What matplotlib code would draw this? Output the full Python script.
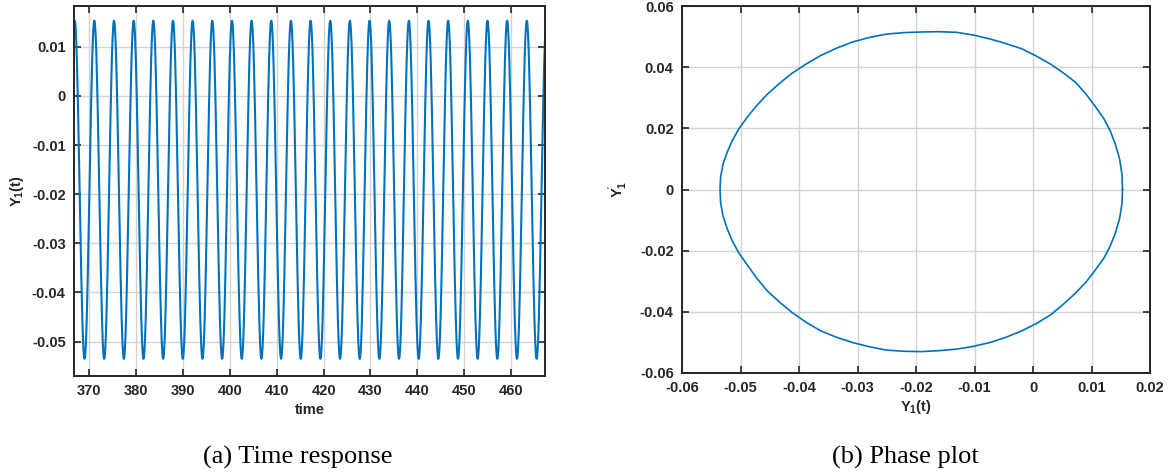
import numpy as np
import matplotlib
matplotlib.use("Agg")
import matplotlib.pyplot as plt

# one oscillation cycle (5 degree steps, clockwise from the right end)
y1_cycle = [0.0153, 0.0152, 0.0148, 0.0141, 0.0132, 0.0121, 0.0107, 0.0091, 0.0073, 0.0052,
            0.0030, 0.0006, -0.0019, -0.0046, -0.0073, -0.0102, -0.0131, -0.0161,
            -0.0191, -0.0221, -0.0251, -0.0280, -0.0309, -0.0336, -0.0363, -0.0388,
            -0.0412, -0.0434, -0.0455, -0.0473, -0.0489, -0.0503, -0.0514, -0.0523,
            -0.0530, -0.0534, -0.0535, -0.0534, -0.0530, -0.0523, -0.0514, -0.0503,
            -0.0489, -0.0473, -0.0455, -0.0434, -0.0412, -0.0388, -0.0363, -0.0336,
            -0.0309, -0.0280, -0.0251, -0.0221, -0.0191, -0.0161, -0.0131, -0.0102,
            -0.0073, -0.0046, -0.0019, 0.0006, 0.0030, 0.0052, 0.0073, 0.0091,
            0.0107, 0.0121, 0.0132, 0.0141, 0.0148, 0.0152]
dy1_cycle = [0.0, -0.0048, -0.0095, -0.0141, -0.0185, -0.0225, -0.0262, -0.0302, -0.0338,
             -0.0375, -0.0410, -0.0438, -0.0462, -0.0483, -0.0500, -0.0513, -0.0522, -0.0527,
             -0.0530, -0.0529, -0.0525, -0.0514, -0.0500, -0.0483, -0.0462, -0.0434,
             -0.0402, -0.0367, -0.0330, -0.0288, -0.0245, -0.0207, -0.0168, -0.0127,
             -0.0085, -0.0043, 0.0, 0.0041, 0.0082, 0.0121, 0.0160, 0.0198,
             0.0235, 0.0273, 0.0310, 0.0346, 0.0380, 0.0410, 0.0438, 0.0462,
             0.0482, 0.0497, 0.0508, 0.0513, 0.0515, 0.0516, 0.0514, 0.0505,
             0.0492, 0.0477, 0.0460, 0.0436, 0.0410, 0.0381, 0.0350, 0.0311,
             0.0270, 0.0232, 0.0192, 0.0147, 0.0100, 0.0050]

period = 4.19          # time units per cycle
t_start = 362.76       # time at which the cycle starts (right end of orbit)
n_cycles = 26

time_ticks = [370, 380, 390, 400, 410, 420, 430, 440, 450, 460]
y_ticks_a = [-0.05, -0.04, -0.03, -0.02, -0.01, 0, 0.01]
x_ticks_b = [-0.06, -0.05, -0.04, -0.03, -0.02, -0.01, 0, 0.01, 0.02]
y_ticks_b = [-0.06, -0.04, -0.02, 0, 0.02, 0.04, 0.06]

BLUE = "#0072BD"
DARK = "#262626"

plt.rcParams['font.family'] = ['Liberation Sans', 'DejaVu Sans']
plt.rcParams['font.weight'] = 'bold'
plt.rcParams['mathtext.fontset'] = 'custom'
plt.rcParams['mathtext.rm'] = 'Liberation Sans:bold'
plt.rcParams['mathtext.it'] = 'Liberation Sans:bold'
plt.rcParams['mathtext.bf'] = 'Liberation Sans:bold'
plt.rcParams['mathtext.default'] = 'rm'


def tick_label(v):
    '''matlab style tick label'''
    if v == 0:
        return "0"
    return f"{v:g}"


def style_axes(ax):
    '''box, inward ticks and light grid like matlab'''
    for side in ax.spines.values():
        side.set_color(DARK)
        side.set_linewidth(1.4)
    ax.tick_params(direction='in', length=5, width=1.2, color=DARK, labelcolor=DARK,
                   labelsize=10.5, top=True, right=True, pad=6)
    ax.grid(True, color="#d3d3d3", linewidth=1.0)
    ax.set_axisbelow(True)
    for lab in ax.get_xticklabels() + ax.get_yticklabels():
        lab.set_fontweight('bold')


fig = plt.figure(figsize=(11.72, 4.75), dpi=100)
W, H = 1172, 475

# (a) time response
ax1 = fig.add_axes([74 / W, 1 - 376 / H, (545 - 74) / W, (376 - 6) / H])
y_series = np.tile(y1_cycle, n_cycles)
t_series = t_start + np.arange(len(y_series)) * period / len(y1_cycle)
ax1.plot(t_series, y_series, color=BLUE, linewidth=1.5)
ax1.set_xlim(366.8, 467.2)
ax1.set_ylim(-0.057, 0.0183)
ax1.set_xticks(time_ticks)
ax1.set_xticklabels([tick_label(v) for v in time_ticks])
ax1.set_yticks(y_ticks_a)
ax1.set_yticklabels([tick_label(v) for v in y_ticks_a])
style_axes(ax1)
ax1.set_xlabel("time", fontsize=10.5, fontweight='bold', color=DARK, labelpad=3)
ax1.set_ylabel(r"Y$_1$(t)", fontsize=10.5, fontweight='bold', color=DARK, labelpad=4)

# (b) phase plot
ax2 = fig.add_axes([682 / W, 1 - 373 / H, (1150 - 682) / W, (373 - 6) / H])
ax2.plot(y1_cycle + y1_cycle[:1], dy1_cycle + dy1_cycle[:1], color=BLUE, linewidth=1.2)
ax2.set_xlim(-0.06, 0.02)
ax2.set_ylim(-0.06, 0.06)
ax2.set_xticks(x_ticks_b)
ax2.set_xticklabels([tick_label(v) for v in x_ticks_b])
ax2.set_yticks(y_ticks_b)
ax2.set_yticklabels([tick_label(v) for v in y_ticks_b])
style_axes(ax2)
ax2.set_xlabel(r"Y$_1$(t)", fontsize=10.5, fontweight='bold', color=DARK, labelpad=2)
ax2.set_ylabel(r"Y$_1^{'}$", fontsize=10.5, fontweight='bold', color=DARK, labelpad=8)

# captions
fig.text(298 / W, 1 - 457 / H, "(a) Time response", family=['Liberation Serif'],
         fontsize=19, fontweight='normal', ha='center', va='center', color='black')
fig.text(905 / W, 1 - 457 / H, "(b) Phase plot", family=['Liberation Serif'],
         fontsize=19, fontweight='normal', ha='center', va='center', color='black')

fig.savefig("out.png", dpi=100)
